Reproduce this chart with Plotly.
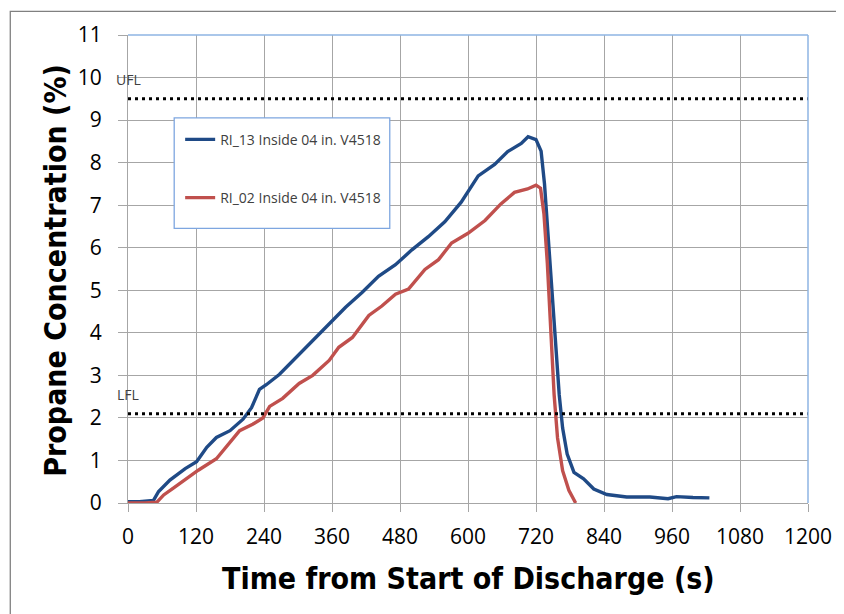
import plotly.graph_objects as go

# ---- data ----
t_ri13 = [0, 20, 45, 54, 74, 101, 121, 139, 156, 180, 203, 218, 232, 244, 267, 290, 314, 337, 355,
          384, 413, 442, 472, 501, 530, 559, 588, 618, 647, 670, 694, 706, 720, 729, 735, 743, 749,
          755, 761, 767, 775, 787, 804, 822, 845, 880, 921, 953, 968, 997, 1026]
c_ri13 = [0.03, 0.03, 0.06, 0.27, 0.54, 0.81, 0.97, 1.31, 1.54, 1.70, 1.97, 2.24, 2.67, 2.78, 3.02, 3.33,
          3.67, 3.98, 4.23, 4.60, 4.95, 5.33, 5.60, 5.95, 6.26, 6.61, 7.07, 7.69, 7.96, 8.26, 8.45, 8.61,
          8.54, 8.27, 7.50, 6.00, 4.86, 3.70, 2.54, 1.76, 1.15, 0.72, 0.57, 0.33, 0.20, 0.14, 0.14, 0.10,
          0.15, 0.13, 0.12]

t_ri02 = [0, 30, 51, 63, 80, 104, 124, 156, 180, 197, 220, 238, 250, 273, 302, 326, 355, 372, 396,
          425, 448, 472, 495, 524, 548, 571, 600, 630, 658, 682, 705, 720, 728, 734, 740, 746, 752,
          758, 767, 778, 790]
c_ri02 = [0.0, 0.0, 0.02, 0.19, 0.35, 0.58, 0.77, 1.04, 1.43, 1.70, 1.85, 2.0, 2.27, 2.46, 2.81, 3.00,
          3.35, 3.66, 3.89, 4.41, 4.63, 4.91, 5.03, 5.49, 5.72, 6.11, 6.34, 6.64, 7.03, 7.30, 7.38, 7.47,
          7.40, 6.80, 5.64, 4.09, 2.54, 1.53, 0.76, 0.30, 0.0]

ufl = 9.5
lfl = 2.1
limit_x = [0, 1200]

x_ticks = [0, 120, 240, 360, 480, 600, 720, 840, 960, 1080, 1200]
y_ticks = list(range(0, 12))

name_13 = "RI_13 Inside 04 in. V4518"
name_02 = "RI_02 Inside 04 in. V4518"

BLUE = "#1F4A86"
RED = "#C0504D"
GRID = "#A6A6A6"
TICKFONT = "Open Sans, Lato, sans-serif"
TITLEFONT = "Liberation Sans Narrow, DejaVu Sans Condensed, Liberation Sans, sans-serif"

fig = go.Figure()
fig.add_trace(go.Scatter(x=t_ri13, y=c_ri13, mode="lines", name=name_13, legendgroup="a",
                         line=dict(color=BLUE, width=3.4)))
fig.add_trace(go.Scatter(x=t_ri02, y=c_ri02, mode="lines", name=name_02, legendgroup="b",
                         line=dict(color=RED, width=3.4)))
fig.add_trace(go.Scatter(x=limit_x, y=[ufl, ufl], mode="lines", showlegend=False, hoverinfo="skip",
                         line=dict(color="black", width=3, dash="3px,4px")))
fig.add_trace(go.Scatter(x=limit_x, y=[lfl, lfl], mode="lines", showlegend=False, hoverinfo="skip",
                         line=dict(color="black", width=3, dash="3px,4px")))

# the page body adds an 8px offset; compensate
OFF = 8
FW, FH = 844 - OFF, 614 - OFF

# plot-area geometry in screen pixels
L, R, T, B = 127.5, 812.0, 29.0, 503.3
W, H = R - L, B - T

def px(xp):
    return (xp - L) / W

def py(yp):
    return (B - yp) / H

shapes = [
    # outer chart frame
    dict(type="rect", xref="paper", yref="paper", x0=px(9), x1=px(900), y0=py(700), y1=py(5),
         line=dict(color="#808080", width=1.3), layer="below"),
    # top and right border of plot area (light blue)
    dict(type="line", xref="paper", yref="paper", x0=0, x1=1, y0=1, y1=1,
         line=dict(color="#8EB4E3", width=1.5), layer="above"),
    dict(type="line", xref="paper", yref="paper", x0=1, x1=1, y0=0, y1=1,
         line=dict(color="#8EB4E3", width=1.5), layer="above"),
    # legend frame
    dict(type="rect", xref="paper", yref="paper", x0=px(174), x1=px(391), y0=py(225), y1=py(113),
         line=dict(color="#7EA6E0", width=1.3), fillcolor="white", layer="above"),
]

annotations = [
    dict(text="UFL", x=px(113), y=py(74), xref="paper", yref="paper", xanchor="left", yanchor="middle",
         showarrow=False, font=dict(family=TICKFONT, size=14, color="#404040")),
    dict(text="LFL", x=px(114), y=py(393), xref="paper", yref="paper", xanchor="left", yanchor="middle",
         showarrow=False, font=dict(family=TICKFONT, size=14, color="#404040")),
    dict(text="<b>Time from Start of Discharge (s)</b>", x=px(470.5), y=py(580), xref="paper", yref="paper",
         xanchor="center", yanchor="middle", showarrow=False,
         font=dict(family=TITLEFONT, size=30, color="black")),
    dict(text="<b>Propane Concentration (%)</b>", x=px(55), y=py(267), xref="paper", yref="paper",
         xanchor="center", yanchor="middle", textangle=-90, showarrow=False,
         font=dict(family=TITLEFONT, size=30, color="black")),
]

fig.update_layout(
    width=FW, height=FH,
    margin=dict(l=L - OFF, r=844 - R, t=T - OFF, b=614 - B, pad=0),
    paper_bgcolor="white", plot_bgcolor="white",
    showlegend=True,
    legend=dict(x=px(180), y=py(119), xanchor="left", yanchor="top",
                bgcolor="rgba(0,0,0,0)", borderwidth=0, tracegroupgap=37,
                font=dict(family=TICKFONT, size=14, color="#404040")),
    shapes=shapes,
    annotations=annotations,
    xaxis=dict(range=[0, 1200], tickvals=x_ticks, ticktext=[str(v) for v in x_ticks],
               showgrid=True, gridcolor=GRID, gridwidth=1.3,
               showline=True, linecolor=GRID, linewidth=1.3,
               ticks="outside", ticklen=8, tickcolor=GRID, tickwidth=1.3,
               ticklabelstandoff=7,
               tickfont=dict(family=TICKFONT, size=21, color="black"), zeroline=False),
    yaxis=dict(range=[0, 11], tickvals=y_ticks, ticktext=[str(v) for v in y_ticks],
               showgrid=True, gridcolor=GRID, gridwidth=1.3,
               showline=True, linecolor=GRID, linewidth=1.3,
               ticks="outside", ticklen=9, tickcolor=GRID, tickwidth=1.3,
               ticklabelstandoff=12,
               tickfont=dict(family=TICKFONT, size=21, color="black"), zeroline=False),
)

fig.write_html("out.html")
